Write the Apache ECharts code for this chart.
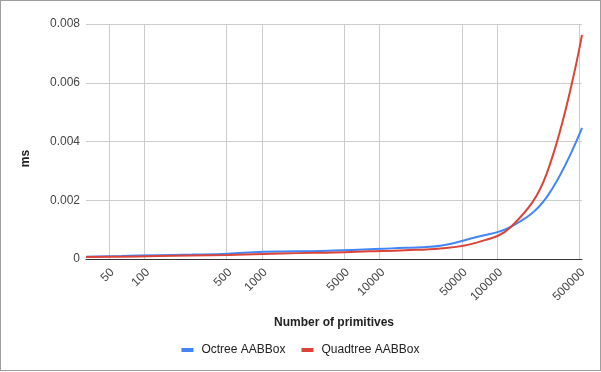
<!DOCTYPE html>
<html>
<head>
<meta charset="utf-8">
<script src="https://cdn.jsdelivr.net/npm/echarts@6/dist/echarts.min.js"></script>
<style>
html,body{margin:0;padding:0;background:#fff;}
#chart{position:absolute;left:0;top:0;width:601px;height:372px;}
#frame{position:absolute;left:0;top:0;width:601px;height:371px;box-sizing:border-box;border:1px solid #9e9e9e;pointer-events:none;}
</style>
</head>
<body>
<div id="chart"></div>
<div id="frame"></div>
<script>
const primitives = [32, 64, 128, 256, 512, 1024, 2048, 4096, 8192, 16384, 32768, 65536, 131072, 262144, 524288];
const octreeMs = [0.00008, 0.0001, 0.00013, 0.00015, 0.00018, 0.00025, 0.00026, 0.00029, 0.00033, 0.00038, 0.00045, 0.00074, 0.0011, 0.0021, 0.00446];
const quadtreeMs = [0.00007, 0.00008, 0.0001, 0.00012, 0.00014, 0.00017, 0.0002, 0.00022, 0.00026, 0.0003, 0.00036, 0.00055, 0.0011, 0.0029, 0.00763];
const xTicks = [50, 100, 500, 1000, 5000, 10000, 50000, 100000, 500000];
const yTicks = [0, 0.002, 0.004, 0.006, 0.008];

const FONT = 'Liberation Sans, Arial, sans-serif';
const chart = echarts.init(document.getElementById('chart'), null, {renderer: 'canvas'});
chart.setOption({
  animation: false,
  color: ['#4285f4', '#db4437'],
  textStyle: {fontFamily: FONT},
  grid: {left: 86, right: 19, top: 24, bottom: 113, containLabel: false},
  legend: {
    left: 'center', top: 339,
    itemWidth: 12, itemHeight: 4, itemGap: 16,
    icon: 'rect',
    textStyle: {fontFamily: FONT, fontSize: 12, color: '#222', padding: [0, 0, 0, 3]},
    data: ['Octree AABBox', 'Quadtree AABBox']
  },
  xAxis: {
    type: 'log',
    min: primitives[0],
    max: primitives[primitives.length - 1],
    name: 'Number of primitives',
    nameLocation: 'middle',
    nameGap: 58,
    nameTextStyle: {fontFamily: FONT, fontSize: 12, fontWeight: 'bold', color: '#222'},
    axisLine: {show: true, lineStyle: {color: '#333', width: 1}},
    axisTick: {show: false, customValues: xTicks},
    axisLabel: {customValues: xTicks, rotate: 45, fontFamily: FONT, fontSize: 12, color: '#444', margin: 8,
      formatter: v => '{t|' + String(Math.round(v)) + '}',
      rich: {t: {fontFamily: FONT, fontSize: 12, color: '#444', padding: [10, 0, 0, 0]}}},
    splitLine: {show: true, lineStyle: {color: '#cccccc', width: 1}}
  },
  yAxis: {
    type: 'value',
    min: yTicks[0],
    max: yTicks[yTicks.length - 1],
    interval: 0.002,
    name: 'ms',
    nameLocation: 'middle',
    nameGap: 54,
    nameTextStyle: {fontFamily: FONT, fontSize: 12, fontWeight: 'bold', color: '#222', padding: [0, 34, 0, 0]},
    axisLine: {show: false},
    axisTick: {show: false},
    axisLabel: {fontFamily: FONT, fontSize: 12, color: '#444', margin: 6},
    splitLine: {show: true, lineStyle: {color: '#cccccc', width: 1}}
  },
  series: [
    {
      name: 'Octree AABBox', type: 'line', smooth: 0.4, showSymbol: false, symbol: 'none',
      lineStyle: {width: 2}, z: 3,
      data: primitives.map((x, i) => [x, octreeMs[i]])
    },
    {
      name: 'Quadtree AABBox', type: 'line', smooth: 0.4, showSymbol: false, symbol: 'none',
      lineStyle: {width: 2}, z: 4,
      data: primitives.map((x, i) => [x, quadtreeMs[i]])
    }
  ]
});
</script>
</body>
</html>
